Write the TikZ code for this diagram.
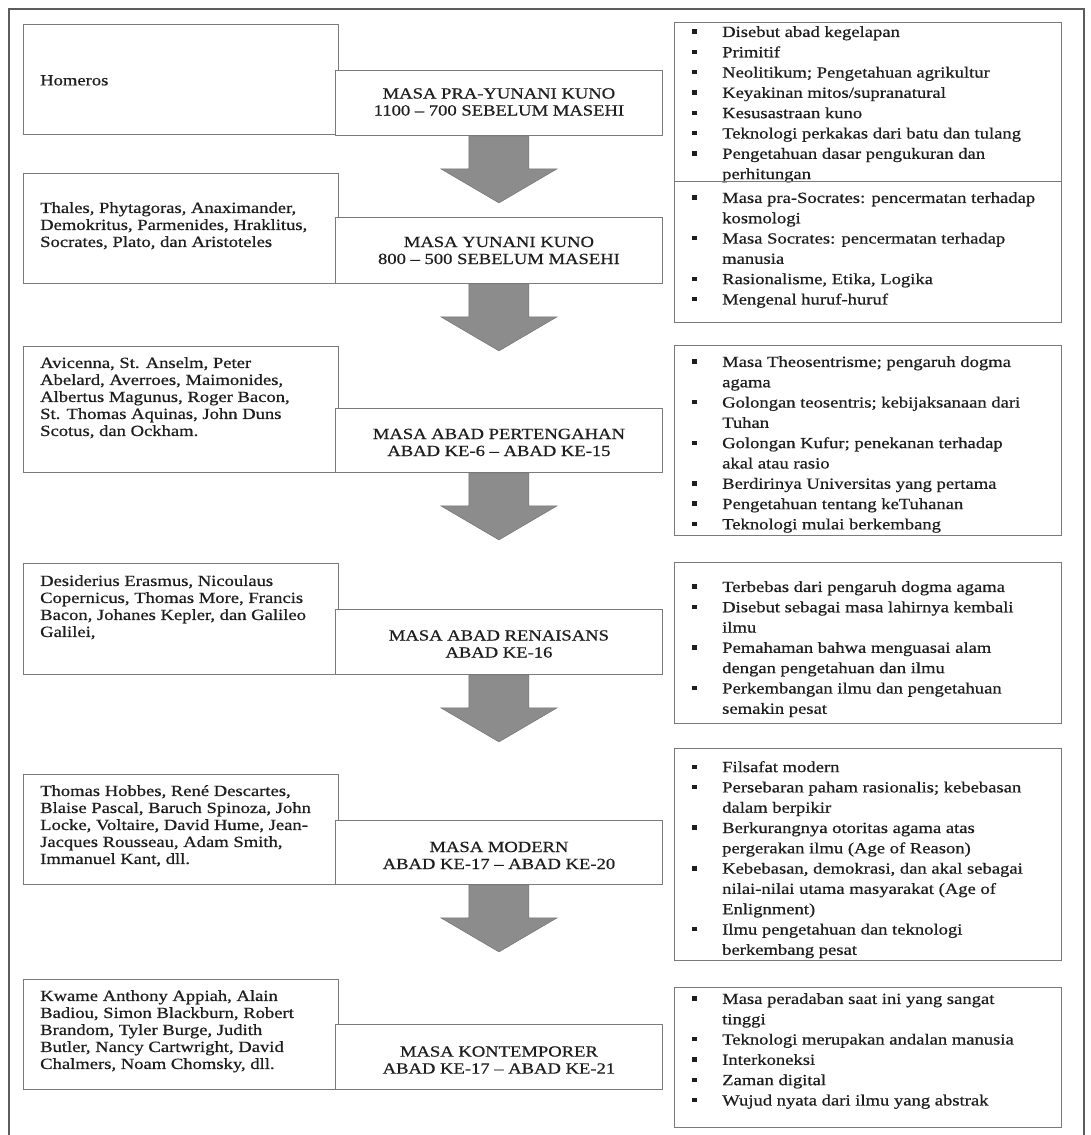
\documentclass[tikz,border=0pt]{standalone}
\usepackage{fontspec}
\setmainfont{Liberation Serif}[FakeStretch=1.2, FakeBold=0.6]
\usetikzlibrary{calc}

\definecolor{edge}{HTML}{7A7A7A}
\definecolor{outer}{HTML}{5C5C5C}
\definecolor{arrowgray}{HTML}{8C8C8C}
\definecolor{ink}{HTML}{1E1E1E}

\newcommand\notefont{\fontsize{15.5pt}{20.3pt}\selectfont}
\newcommand\namefont{\fontsize{15.5pt}{17pt}\selectfont}
\newcommand\erafont{\fontsize{15.5pt}{17pt}\selectfont}
% one bulleted entry with a hanging indent (breaks inside use \newline)
\newcommand\bulitem[1]{\par\noindent\hangindent=30pt\hangafter=1\makebox[30pt][l]{\raisebox{0.2em}{\rule{4.5pt}{4.5pt}}}#1\par}
\newcommand\notelist[1]{\begin{minipage}[t]{375pt}\raggedright\notefont #1\end{minipage}}
\newcommand\namelist[1]{\begin{minipage}[t]{300pt}\raggedright\namefont #1\end{minipage}}
% block arrow hanging below an era box
\newcommand\downblock[1]{%
  \filldraw[blockarrow] ($(#1.south)+(-30,0)$) -- ++(0,33) -- ++(-28,0)
    -- ($(#1.south)+(0,67)$) -- ($(#1.south)+(58,33)$) -- ++(-28,0)
    -- ($(#1.south)+(30,0)$) -- cycle;}

\begin{document}
\begin{tikzpicture}[x=1pt, y=-1pt, text=ink,
  namebox/.style={draw=edge, line width=0.9pt, fill=white, anchor=north west,
    inner sep=0pt, minimum width=315pt},
  erabox/.style={draw=edge, line width=0.9pt, fill=white, anchor=north west,
    inner sep=0pt, minimum width=327pt},
  notebox/.style={draw=edge, line width=0.9pt, anchor=north west,
    inner sep=0pt, minimum width=387pt},
  txt/.style={anchor=north west, inner sep=0pt},
  eratxt/.style={inner sep=0pt, align=center, font=\erafont},
  blockarrow/.style={fill=arrowgray, draw=black!55, line width=0.5pt}]

\useasboundingbox (0,0) rectangle (1090,1135);

% outer frame, open at the bottom
\draw[outer, line width=1.1pt] (9,1135) -- (9,9) -- (1084,9) -- (1084,1135);

% ---------- row 1 ----------
\node[namebox, minimum height=110pt] (n1) at (23,24) {};
\node[txt] (t1) at (40,75) {\namelist{Homeros}};
\node[erabox, minimum height=65pt] (m1) at (335,70) {};
\node[eratxt] (e1) at ($(m1.center)+(0,-1)$) {MASA PRA-YUNANI KUNO\\1100 -- 700 SEBELUM MASEHI};
\node[notebox, minimum height=159pt] (r1) at (674,22) {};
\node[txt] (s1) at (692,26) {\notelist{%
  \bulitem{Disebut abad kegelapan}
  \bulitem{Primitif}
  \bulitem{Neolitikum; Pengetahuan agrikultur}
  \bulitem{Keyakinan mitos/supranatural}
  \bulitem{Kesusastraan kuno}
  \bulitem{Teknologi perkakas dari batu dan tulang}
  \bulitem{Pengetahuan dasar pengukuran dan\newline perhitungan}}};
\downblock{m1}

% ---------- row 2 ----------
\node[namebox, minimum height=110pt] (n2) at (23,173) {};
\node[txt] (t2) at (40,202) {\namelist{Thales, Phytagoras, Anaximander,\\
  Demokritus, Parmenides, Hraklitus,\\ Socrates, Plato, dan Aristoteles}};
\node[erabox, minimum height=66pt] (m2) at (335,217) {};
\node[eratxt] (e2) at ($(m2.center)+(0,0)$) {MASA YUNANI KUNO\\800 -- 500 SEBELUM MASEHI};
\node[notebox, minimum height=141pt] (r2) at (674,181) {};
\node[txt] (s2) at (692,192) {\notelist{%
  \bulitem{Masa pra-Socrates: pencermatan terhadap\newline kosmologi}
  \bulitem{Masa Socrates: pencermatan terhadap\newline manusia}
  \bulitem{Rasionalisme, Etika, Logika}
  \bulitem{Mengenal huruf-huruf}}};
\downblock{m2}

% ---------- row 3 ----------
\node[namebox, minimum height=126pt] (n3) at (23,346) {};
\node[txt] (t3) at (40,357) {\namelist{Avicenna, St. Anselm, Peter\\
  Abelard, Averroes, Maimonides,\\ Albertus Magunus, Roger Bacon,\\
  St. Thomas Aquinas, John Duns\\ Scotus, dan Ockham.}};
\node[erabox, minimum height=64pt] (m3) at (335,408) {};
\node[eratxt] (e3) at ($(m3.center)+(0,2)$) {MASA ABAD PERTENGAHAN\\ABAD KE-6 -- ABAD KE-15};
\node[notebox, minimum height=190pt] (r3) at (674,345) {};
\node[txt] (s3) at (692,356) {\notelist{%
  \bulitem{Masa Theosentrisme; pengaruh dogma\newline agama}
  \bulitem{Golongan teosentris; kebijaksanaan dari\newline Tuhan}
  \bulitem{Golongan Kufur; penekanan terhadap\newline akal atau rasio}
  \bulitem{Berdirinya Universitas yang pertama}
  \bulitem{Pengetahuan tentang keTuhanan}
  \bulitem{Teknologi mulai berkembang}}};
\downblock{m3}

% ---------- row 4 ----------
\node[namebox, minimum height=111pt] (n4) at (23,563) {};
\node[txt] (t4) at (40,575) {\namelist{Desiderius Erasmus, Nicoulaus\\
  Copernicus, Thomas More, Francis\\ Bacon, Johanes Kepler, dan Galileo\\ Galilei,}};
\node[erabox, minimum height=65pt] (m4) at (335,609) {};
\node[eratxt] (e4) at ($(m4.center)+(0,2)$) {MASA ABAD RENAISANS\\ABAD KE-16};
\node[notebox, minimum height=161pt] (r4) at (674,562) {};
\node[txt] (s4) at (692,581) {\notelist{%
  \bulitem{Terbebas dari pengaruh dogma agama}
  \bulitem{Disebut sebagai masa lahirnya kembali\newline ilmu}
  \bulitem{Pemahaman bahwa menguasai alam\newline dengan pengetahuan dan ilmu}
  \bulitem{Perkembangan ilmu dan pengetahuan\newline semakin pesat}}};
\downblock{m4}

% ---------- row 5 ----------
\node[namebox, minimum height=110pt] (n5) at (23,774) {};
\node[txt] (t5) at (40,785) {\namelist{Thomas Hobbes, René Descartes,\\
  Blaise Pascal, Baruch Spinoza, John\\ Locke, Voltaire, David Hume, Jean-\\
  Jacques Rousseau, Adam Smith,\\ Immanuel Kant, dll.}};
\node[erabox, minimum height=64pt] (m5) at (335,820) {};
\node[eratxt] (e5) at ($(m5.center)+(0,3)$) {MASA MODERN\\ABAD KE-17 -- ABAD KE-20};
\node[notebox, minimum height=212pt] (r5) at (674,748) {};
\node[txt] (s5) at (692,761) {\notelist{%
  \bulitem{Filsafat modern}
  \bulitem{Persebaran paham rasionalis; kebebasan\newline dalam berpikir}
  \bulitem{Berkurangnya otoritas agama atas\newline pergerakan ilmu (Age of Reason)}
  \bulitem{Kebebasan, demokrasi, dan akal sebagai\newline nilai-nilai utama masyarakat (Age of\newline Enlignment)}
  \bulitem{Ilmu pengetahuan dan teknologi\newline berkembang pesat}}};
\downblock{m5}

% ---------- row 6 ----------
\node[namebox, minimum height=110pt] (n6) at (23,979) {};
\node[txt] (t6) at (40,990) {\namelist{Kwame Anthony Appiah, Alain\\
  Badiou, Simon Blackburn, Robert\\ Brandom, Tyler Burge, Judith\\
  Butler, Nancy Cartwright, David\\ Chalmers, Noam Chomsky, dll.}};
\node[erabox, minimum height=65pt] (m6) at (335,1024) {};
\node[eratxt] (e6) at ($(m6.center)+(0,3)$) {MASA KONTEMPORER\\ABAD KE-17 -- ABAD KE-21};
\node[notebox, minimum height=140pt] (r6) at (674,987) {};
\node[txt] (s6) at (692,993) {\notelist{%
  \bulitem{Masa peradaban saat ini yang sangat\newline tinggi}
  \bulitem{Teknologi merupakan andalan manusia}
  \bulitem{Interkoneksi}
  \bulitem{Zaman digital}
  \bulitem{Wujud nyata dari ilmu yang abstrak}}};

\end{tikzpicture}
\end{document}
